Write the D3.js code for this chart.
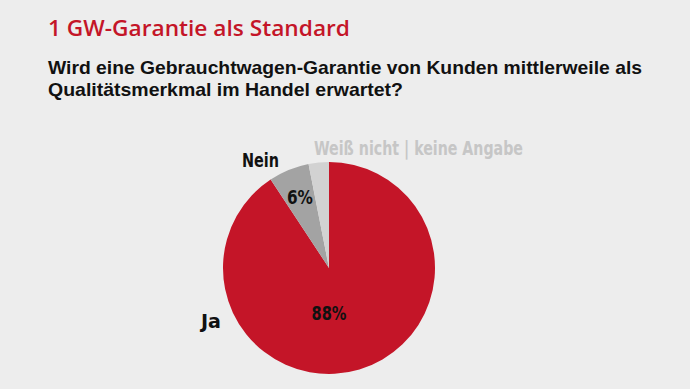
<!DOCTYPE html>
<html>
<head>
<meta charset="utf-8">
<script src="https://cdn.jsdelivr.net/npm/d3@7"></script>
<style>
  body { margin: 0; background: #ededed; }
  svg { display: block; }
  .cond { font-family: "DejaVu Sans Condensed", "DejaVu Sans"; font-stretch: condensed; font-weight: bold; }
</style>
</head>
<body>
<div id="chart"></div>
<script>
// Antworten (Reihenfolge im Uhrzeigersinn ab 12 Uhr)
const categories = ["Ja", "Nein", "Weiß nicht | keine Angabe"];
const values = [88, 6, 3];
const valueLabels = ["88%", "6%", ""];
const colors = ["#c41528", "#a3a3a3", "#d2d2d2"];

const width = 690, height = 389;
const svg = d3.select("#chart").append("svg")
  .attr("width", width)
  .attr("height", height);

svg.append("rect").attr("width", width).attr("height", height).attr("fill", "#ededed");

// Titel
svg.append("text")
  .attr("x", 48).attr("y", 35.5)
  .attr("fill", "#c41528")
  .attr("font-family", "Open Sans").attr("font-weight", 600)
  .attr("font-size", 22)
  .attr("textLength", 302).attr("lengthAdjust", "spacingAndGlyphs")
  .text("1 GW-Garantie als Standard");

// Untertitel, zwei Zeilen
const sub = ["Wird eine Gebrauchtwagen-Garantie von Kunden mittlerweile als", "Qualitätsmerkmal im Handel erwartet?"];
const subLen = [594, 355];
sub.forEach(function(s, i) {
  svg.append("text")
    .attr("x", 48).attr("y", 74 + i * 21.5)
    .attr("fill", "#111")
    .attr("font-family", "Liberation Sans").attr("font-weight", "bold")
    .attr("font-size", 19)
    .attr("textLength", subLen[i]).attr("lengthAdjust", "spacingAndGlyphs")
    .text(s);
});

// Kreisdiagramm
const cx = 329, cy = 268, r = 106;
const pie = d3.pie().sort(null).value(d => d);
const arcs = pie(values);
const arc = d3.arc().innerRadius(0).outerRadius(r);

const g = svg.append("g").attr("transform", "translate(" + cx + "," + cy + ")");
g.selectAll("path")
  .data(arcs)
  .enter().append("path")
  .attr("d", arc)
  .attr("fill", (d, i) => colors[i]);

// Prozentwerte in den Segmenten
const labelArc = d3.arc().innerRadius(0).outerRadius(r * 1.45);
const valLen = [35, 26];
g.selectAll("text.val")
  .data(arcs.slice(0, 2))
  .enter().append("text")
  .attr("class", "val cond")
  .attr("font-size", 19)
  .attr("fill", "#111")
  .attr("text-anchor", "middle")
  .attr("textLength", (d, i) => valLen[i]).attr("lengthAdjust", "spacingAndGlyphs")
  .attr("transform", function(d, i) {
    const c = i === 0 ? [0, 45] : labelArc.centroid(d);
    return "translate(" + c[0] + "," + (c[1] + 7) + ")";
  })
  .text((d, i) => valueLabels[i]);

// Kategorienamen
const labelPos = [[-128, 60, "#111", 20], [-87, -101, "#111", 37], [-15, -113, "#c6c6c6", 209]];
g.selectAll("text.cat")
  .data(categories)
  .enter().append("text")
  .attr("class", "cat cond")
  .attr("font-size", 19.5)
  .attr("x", (d, i) => labelPos[i][0])
  .attr("y", (d, i) => labelPos[i][1])
  .attr("fill", (d, i) => labelPos[i][2])
  .attr("textLength", (d, i) => labelPos[i][3]).attr("lengthAdjust", "spacingAndGlyphs")
  .text(d => d);
</script>
</body>
</html>
